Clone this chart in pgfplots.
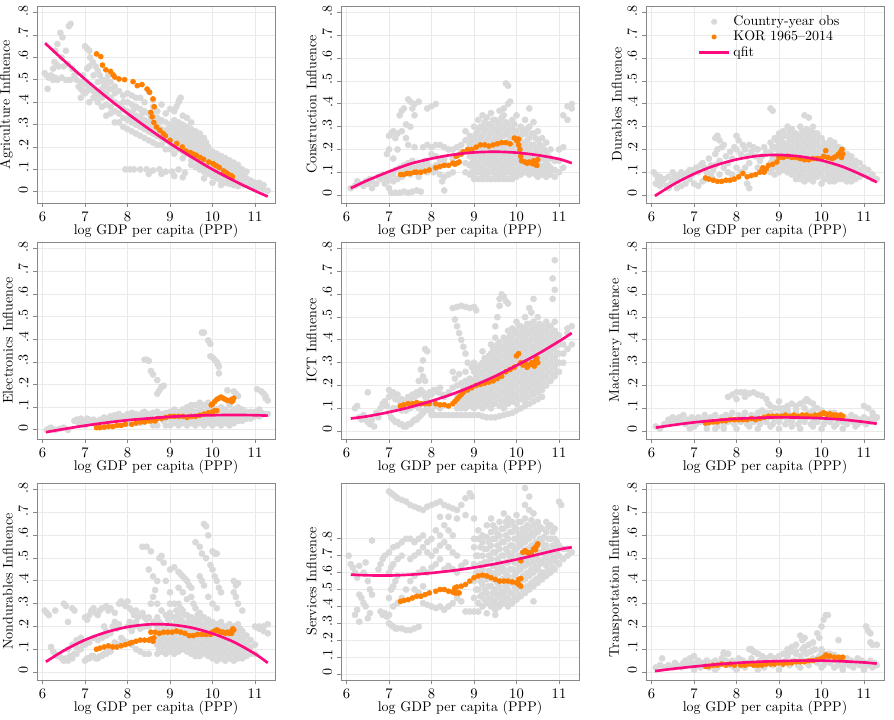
\documentclass[border=0pt]{standalone}
\usepackage{pgfplots}
\pgfplotsset{compat=1.18}
\definecolor{dotgrey}{RGB}{217,217,217}
\definecolor{kor}{RGB}{255,128,0}
\definecolor{fitc}{RGB}{255,10,127}
\definecolor{gridc}{RGB}{234,234,234}
\definecolor{framec}{RGB}{135,135,135}
\newcommand\fs{\fontsize{10.5}{12.6}\selectfont}
\pgfplotsset{
  stata/.style={
    scale only axis, width=178.5pt, height=147.75pt, anchor=north west,
    clip marker paths=true,
    xmin=5.87, xmax=11.47, ymin=-0.035, ymax=0.83,
    xtick={6,7,8,9,10,11},
    ytick={0,0.1,0.2,0.3,0.4,0.5,0.6,0.7,0.8},
    yticklabels={0,.1,.2,.3,.4,.5,.6,.7,.8},
    grid=major, major grid style={draw=gridc, line width=0.7pt},
    axis line style={draw=framec, line width=0.7pt},
    tick style={draw=framec, line width=0.7pt},
    tick align=outside, tick pos=left, major tick length=3pt,
    yticklabel style={rotate=90, anchor=south, font=\fs, xshift=1.5pt},
    xticklabel style={font=\fs},
    label style={font=\fs},
    xlabel={log GDP per capita (PPP)},
    xlabel style={yshift=4.5pt},
    ylabel style={yshift=-2.5pt},
  },
  greyd/.style={only marks, mark=*, mark size=2.3pt, color=dotgrey},
  kord/.style={only marks, mark=*, mark size=1.9pt, color=kor},
  fitl/.style={no marks, smooth, draw=fitc, line width=2pt},
  greyleg/.style={legend image code/.code={\path[draw=none] (0pt,0pt) -- (23pt,0pt); \fill[dotgrey, draw=none] (11.5pt,0pt) circle (2.3pt);}},
  korleg/.style={legend image code/.code={\path[draw=none] (0pt,0pt) -- (23pt,0pt); \fill[kor, draw=none] (11.5pt,0pt) circle (1.9pt);}},
  lineleg/.style={legend image code/.code={\draw[fitc, line width=2pt] (0pt,0pt) -- (23pt,0pt);}},
}
\begin{document}
\begin{tikzpicture}
\useasboundingbox (0,0) rectangle (670.5pt,-540pt);
% ---------------- Agriculture
\begin{axis}[stata, at={(27.75pt,-4.5pt)}, ylabel={Agriculture Influence}, ymin=-0.05]
\addplot[greyd] coordinates {
(6.05,0.53) (6.1,0.52) (6.15,0.51) (6.2,0.52) (6.12,0.46) (6.25,0.5) (6.3,0.51) (6.35,0.5) (6.42,0.71) (6.47,0.69) (6.62,0.74) (6.66,0.75) (6.35,0.66) (6.3,0.63) (6.28,0.58) (6.33,0.57) (6.38,0.56) (6.45,0.6) (6.55,0.63) (6.5,0.56) (6.6,0.57) (6.7,0.55) (6.75,0.52) (6.8,0.5) (6.45,0.51) (6.55,0.5) (6.65,0.5) (6.25,0.55)
(6.85,0.47) (6.9,0.46) (6.95,0.45) (7.0,0.44) (7.05,0.45) (7.1,0.47) (7.15,0.46) (7.2,0.45) (6.9,0.49) (7.0,0.48) (7.25,0.44) (7.3,0.43)
(7.0,0.65) (7.05,0.64) (7.1,0.63) (7.12,0.6) (7.18,0.58) (7.25,0.56) (7.3,0.54) (7.35,0.52) (7.4,0.5) (7.1,0.56) (7.2,0.52) (7.3,0.49) (7.45,0.48) (7.5,0.5) (7.55,0.52) (7.6,0.49) (7.7,0.47) (7.8,0.45) (7.9,0.43) (7.6,0.46)
(7.3,0.4) (7.4,0.42) (7.5,0.44) (7.5,0.39) (7.6,0.38) (7.6,0.42) (7.7,0.4) (7.7,0.36) (7.8,0.35) (7.8,0.39) (7.9,0.37) (7.9,0.33) (8.0,0.32) (8.0,0.36) (8.0,0.4) (8.1,0.31) (8.1,0.35) (8.1,0.39) (8.2,0.3) (8.2,0.34) (8.2,0.38) (8.3,0.29) (8.3,0.33) (8.3,0.37) (8.3,0.42) (8.4,0.28) (8.4,0.32) (8.4,0.36) (8.5,0.27) (8.5,0.31) (8.5,0.35) (8.5,0.45) (8.6,0.26) (8.6,0.3) (8.6,0.34) (8.6,0.41) (8.7,0.25) (8.7,0.29) (8.7,0.33) (8.8,0.24) (8.8,0.28) (8.8,0.32) (8.8,0.39) (8.9,0.23) (8.9,0.27) (8.9,0.31) (9.0,0.22) (9.0,0.26) (9.0,0.3) (9.0,0.37) (9.1,0.36) (9.15,0.38) (9.2,0.4) (9.25,0.42) (9.22,0.41)
(7.2,0.42) (7.4,0.38) (7.6,0.35) (7.8,0.31) (8.0,0.28) (8.2,0.26) (8.4,0.24) (8.6,0.22) (8.8,0.21) (9.0,0.19)
(7.4,0.46) (7.5,0.47) (7.7,0.44) (7.9,0.4) (8.0,0.44) (8.1,0.43) (8.2,0.42) (8.4,0.4) (8.6,0.38) (8.7,0.36) (8.9,0.35) (9.1,0.32) (9.3,0.34) (9.4,0.33) (9.5,0.31) (7.5,0.34) (7.7,0.31) (7.9,0.29) (8.1,0.27) (8.3,0.25) (8.5,0.23) (8.7,0.21) (8.9,0.19) (9.1,0.17) (9.3,0.15) (9.5,0.14) (9.7,0.12) (6.9,0.42) (7.1,0.4) (6.95,0.52) (7.05,0.55)
(9.1,0.2) (9.1,0.24) (9.1,0.28) (9.2,0.19) (9.2,0.23) (9.2,0.27) (9.2,0.31) (9.3,0.18) (9.3,0.22) (9.3,0.26) (9.3,0.3) (9.4,0.17) (9.4,0.21) (9.4,0.25) (9.4,0.29) (9.5,0.16) (9.5,0.2) (9.5,0.24) (9.5,0.28) (9.6,0.15) (9.6,0.19) (9.6,0.23) (9.6,0.27) (9.7,0.14) (9.7,0.18) (9.7,0.22) (9.7,0.26) (9.8,0.13) (9.8,0.17) (9.8,0.21) (9.8,0.24) (9.9,0.12) (9.9,0.16) (9.9,0.2) (10.0,0.11) (10.0,0.15) (10.0,0.18) (10.1,0.1) (10.1,0.14) (10.1,0.17) (10.2,0.09) (10.2,0.13) (10.2,0.16) (10.3,0.08) (10.3,0.12) (10.3,0.15) (10.4,0.07) (10.4,0.11) (10.4,0.14) (10.5,0.06) (10.5,0.1) (10.5,0.13) (10.6,0.05) (10.6,0.09) (10.6,0.12) (10.7,0.04) (10.7,0.08) (10.7,0.1) (10.8,0.03) (10.8,0.06) (10.8,0.09) (10.9,0.03) (10.9,0.05) (11.0,0.02) (11.0,0.04) (11.1,0.02) (11.1,0.04) (11.2,0.01) (11.2,0.03) (11.3,0.005)
(9.5,0.12) (9.6,0.11) (9.7,0.1) (9.8,0.09) (9.9,0.08) (10.0,0.07) (10.1,0.06) (10.2,0.05) (10.3,0.04) (10.4,0.035) (10.5,0.03) (10.6,0.025) (9.8,0.06) (10.0,0.04) (10.2,0.03)
(7.95,0.1) (8.05,0.1) (8.15,0.1) (8.3,0.1) (8.45,0.1) (8.6,0.095) (8.75,0.1) (8.9,0.09) (9.05,0.09) (9.2,0.1) (9.35,0.085) (8.5,0.08) (8.8,0.08) (9.1,0.07) (9.3,0.065)
(9.05,0.21) (9.05,0.25) (9.05,0.29) (9.15,0.22) (9.15,0.26) (9.15,0.3) (9.25,0.21) (9.25,0.25) (9.25,0.29) (9.35,0.2) (9.35,0.24) (9.35,0.28) (9.45,0.19) (9.45,0.23) (9.45,0.27) (9.55,0.18) (9.55,0.22) (9.55,0.26) (9.65,0.13) (9.65,0.17) (9.65,0.21) (9.65,0.25) (9.75,0.12) (9.75,0.16) (9.75,0.2) (9.75,0.24) (9.85,0.11) (9.85,0.15) (9.85,0.19) (9.85,0.22) (9.95,0.1) (9.95,0.14) (9.95,0.17) (10.05,0.09) (10.05,0.13) (10.05,0.16) (10.15,0.08) (10.15,0.12) (10.15,0.15) (10.25,0.07) (10.25,0.11) (10.25,0.14) (10.35,0.06) (10.35,0.1) (10.35,0.13) (10.45,0.05) (10.45,0.09) (10.45,0.12) (10.55,0.04) (10.55,0.07) (10.55,0.11) (10.65,0.04) (10.65,0.07) (10.65,0.1) (10.75,0.03) (10.75,0.06) (10.75,0.09)
(8.05,0.34) (8.15,0.33) (8.25,0.32) (8.35,0.31) (8.45,0.3) (8.55,0.29) (8.65,0.28) (8.75,0.27) (8.85,0.26) (8.95,0.25) (8.15,0.37) (8.35,0.35) (8.55,0.33) (8.75,0.31) (8.95,0.28)
};
\addplot[kord] coordinates {
(7.27,0.616) (7.37,0.604) (7.41,0.566) (7.49,0.545) (7.6,0.538) (7.66,0.523) (7.7,0.513) (7.8,0.504) (7.93,0.501) (8.13,0.492) (8.23,0.474) (8.34,0.479) (8.46,0.459) (8.52,0.444) (8.6,0.415) (8.63,0.38) (8.55,0.355) (8.58,0.335) (8.62,0.31) (8.68,0.29) (8.76,0.275) (8.84,0.26) (8.89,0.25) (9.0,0.23) (9.16,0.216) (9.29,0.2) (9.38,0.182) (9.48,0.175) (9.62,0.163) (9.71,0.153) (9.79,0.145) (9.91,0.133) (10.01,0.126) (10.09,0.116) (10.16,0.108) (10.26,0.093) (10.34,0.083) (10.41,0.074) (10.47,0.067) (10.44,0.072) (10.3,0.088) (10.05,0.12) (9.55,0.168)
};
\addplot[fitl] coordinates {(6.06,0.664) (6.5,0.587) (7,0.503) (7.5,0.424) (8,0.35) (8.5,0.281) (9,0.216) (9.5,0.156) (10,0.1) (10.5,0.05) (11,0.004) (11.3,-0.021)};
\end{axis}
% ---------------- Construction
\begin{axis}[stata, at={(255.75pt,-4.5pt)}, ylabel={Construction Influence}]
\addplot[greyd] coordinates {
(6.1,0.03) (6.2,0.04) (6.25,0.06) (6.3,0.05) (6.4,0.04) (6.45,0.06) (6.5,0.05) (6.55,0.07) (6.6,0.06) (6.7,0.05) (6.75,0.08) (6.8,0.07) (6.85,0.09) (6.9,0.08) (6.95,0.06) (7.0,0.08) (7.05,0.1) (7.1,0.09) (7.15,0.11) (7.2,0.07) (7.25,0.12) (7.3,0.1) (7.35,0.13) (7.4,0.11) (7.45,0.14) (7.5,0.12) (7.55,0.15) (7.6,0.12) (7.65,0.1) (7.7,0.13) (7.75,0.11) (7.8,0.13) (7.85,0.15) (7.9,0.14) (7.95,0.12) (8.0,0.12) (8.05,0.1) (8.1,0.11) (8.2,0.09) (8.25,0.06) (8.3,0.08) (8.4,0.09) (8.5,0.1) (6.6,0.03) (6.9,0.05) (7.1,0.06) (7.3,0.08) (7.5,0.09) (7.7,0.08) (7.9,0.1) (8.1,0.13) (8.2,0.15) (8.3,0.14)
(7.0,0.03) (7.05,0.01) (7.15,0.01) (7.25,0.01) (7.35,0.015) (7.45,0.01) (7.55,0.015) (7.65,0.02) (7.75,0.015) (8.3,0.02)
(6.95,0.18) (7.0,0.2) (7.0,0.26) (7.05,0.27) (7.1,0.28) (7.15,0.25) (7.2,0.27) (7.1,0.16) (7.2,0.2) (7.25,0.35) (7.3,0.37) (7.35,0.38) (7.3,0.28) (7.4,0.31) (7.45,0.42) (7.5,0.41) (7.5,0.3) (7.55,0.38) (7.6,0.4) (7.7,0.41) (7.6,0.35) (7.4,0.25) (7.45,0.22) (7.6,0.21) (7.9,0.38) (8.0,0.39) (8.1,0.4) (7.8,0.21) (7.9,0.22) (8.0,0.21) (8.1,0.22) (8.2,0.22) (8.3,0.21) (8.4,0.2) (8.5,0.2) (8.6,0.21) (8.7,0.22) (8.0,0.18) (8.1,0.17) (8.3,0.16) (8.5,0.16) (8.7,0.19)
(8.8,0.1) (8.8,0.14) (8.8,0.24) (8.8,0.28)
(8.9,0.09) (8.9,0.13) (8.9,0.17) (8.9,0.22) (8.9,0.26)
(9.0,0.08) (9.0,0.12) (9.0,0.16) (9.0,0.2) (9.0,0.25) (9.0,0.3)
(9.1,0.1) (9.1,0.14) (9.1,0.18) (9.1,0.23) (9.1,0.28) (9.1,0.33)
(9.2,0.09) (9.2,0.12) (9.2,0.16) (9.2,0.21) (9.2,0.26) (9.2,0.3) (9.2,0.35)
(9.3,0.08) (9.3,0.11) (9.3,0.15) (9.3,0.19) (9.3,0.24) (9.3,0.29) (9.3,0.34)
(9.4,0.1) (9.4,0.13) (9.4,0.17) (9.4,0.22) (9.4,0.27) (9.4,0.31) (9.4,0.36)
(9.5,0.09) (9.5,0.12) (9.5,0.16) (9.5,0.2) (9.5,0.25) (9.5,0.29) (9.5,0.33)
(9.6,0.08) (9.6,0.11) (9.6,0.15) (9.6,0.19) (9.6,0.24) (9.6,0.28) (9.6,0.32) (9.6,0.37)
(9.7,0.09) (9.7,0.13) (9.7,0.17) (9.7,0.21) (9.7,0.26) (9.7,0.3) (9.7,0.35) (9.7,0.38)
(9.8,0.1) (9.8,0.14) (9.8,0.18) (9.8,0.23) (9.8,0.27) (9.8,0.31) (9.8,0.4)
(9.9,0.09) (9.9,0.12) (9.9,0.16) (9.9,0.2) (9.9,0.25) (9.9,0.29) (9.9,0.33)
(10.0,0.08) (10.0,0.11) (10.0,0.15) (10.0,0.19) (10.0,0.23) (10.0,0.28) (10.0,0.35)
(10.1,0.09) (10.1,0.13) (10.1,0.17) (10.1,0.21) (10.1,0.26) (10.1,0.3)
(10.2,0.1) (10.2,0.14) (10.2,0.18) (10.2,0.22) (10.2,0.27) (10.2,0.33)
(10.3,0.09) (10.3,0.12) (10.3,0.16) (10.3,0.2) (10.3,0.25) (10.3,0.3) (10.3,0.38)
(10.4,0.1) (10.4,0.13) (10.4,0.17) (10.4,0.22) (10.4,0.27) (10.4,0.32)
(10.5,0.08) (10.5,0.11) (10.5,0.15) (10.5,0.19) (10.5,0.24) (10.5,0.28)
(10.6,0.09) (10.6,0.12) (10.6,0.16) (10.6,0.21) (10.6,0.25)
(10.7,0.08) (10.7,0.11) (10.7,0.14) (10.7,0.18) (10.7,0.23)
(10.8,0.09) (10.8,0.12) (10.8,0.16) (10.8,0.2)
(10.9,0.08) (10.9,0.11) (10.9,0.15)
(11.0,0.1) (11.0,0.15) (11.0,0.2) (11.1,0.12) (11.1,0.21) (11.1,0.35) (11.2,0.39) (11.2,0.33) (11.3,0.4) (11.3,0.38)
(9.75,0.49) (9.8,0.48) (9.85,0.41)
(9.0,0.07) (9.1,0.07) (9.2,0.07) (9.3,0.07) (9.4,0.07) (9.5,0.07) (9.6,0.07) (9.7,0.07) (9.8,0.07) (9.9,0.07)
(8.95,0.1) (8.95,0.14) (8.95,0.19) (8.95,0.24) (9.05,0.1) (9.05,0.14) (9.05,0.18) (9.05,0.22) (9.05,0.27) (9.15,0.12) (9.15,0.16) (9.15,0.2) (9.15,0.25) (9.15,0.3) (9.25,0.1) (9.25,0.14) (9.25,0.18) (9.25,0.23) (9.25,0.28) (9.25,0.32) (9.35,0.1) (9.35,0.13) (9.35,0.17) (9.35,0.21) (9.35,0.26) (9.35,0.31) (9.45,0.11) (9.45,0.15) (9.45,0.19) (9.45,0.24) (9.45,0.29) (9.45,0.33)
(9.55,0.1) (9.55,0.14) (9.55,0.18) (9.55,0.22) (9.55,0.27) (9.55,0.31) (9.65,0.1) (9.65,0.13) (9.65,0.17) (9.65,0.21) (9.65,0.26) (9.65,0.3) (9.65,0.34) (9.75,0.11) (9.75,0.15) (9.75,0.19) (9.75,0.23) (9.75,0.28) (9.75,0.32) (9.85,0.1) (9.85,0.13) (9.85,0.16) (9.85,0.21) (9.85,0.25) (9.85,0.29) (9.95,0.1) (9.95,0.14) (9.95,0.18) (9.95,0.22) (9.95,0.27) (9.95,0.31)
(10.05,0.1) (10.05,0.13) (10.05,0.17) (10.05,0.21) (10.05,0.25) (10.15,0.11) (10.15,0.15) (10.15,0.19) (10.15,0.23) (10.15,0.28) (10.25,0.12) (10.25,0.16) (10.25,0.2) (10.25,0.24) (10.25,0.29) (10.35,0.1) (10.35,0.14) (10.35,0.18) (10.35,0.22) (10.35,0.27) (10.45,0.09) (10.45,0.12) (10.45,0.16) (10.45,0.2) (10.45,0.25) (10.55,0.1) (10.55,0.13) (10.55,0.18) (10.55,0.22) (10.65,0.1) (10.65,0.13) (10.65,0.16) (10.65,0.2) (10.75,0.1) (10.75,0.13) (10.75,0.17)
};
\addplot[kord] coordinates {
(7.27,0.09) (7.35,0.09) (7.42,0.095) (7.5,0.095) (7.6,0.1) (7.65,0.1) (7.75,0.1) (7.85,0.105) (7.95,0.11) (8.1,0.12) (8.2,0.125) (8.3,0.13) (8.4,0.13) (8.5,0.14) (8.55,0.135) (8.6,0.14) (8.65,0.145) (8.58,0.17) (8.62,0.175) (8.7,0.18) (8.75,0.19) (8.85,0.2) (8.95,0.2) (9.05,0.21) (9.15,0.22) (9.25,0.22) (9.35,0.215) (9.45,0.22) (9.55,0.225) (9.65,0.23) (9.75,0.23) (9.85,0.225) (9.95,0.25) (10.0,0.24) (10.05,0.245) (10.05,0.22) (10.08,0.2) (10.1,0.17) (10.12,0.15) (10.2,0.145) (10.3,0.145) (10.35,0.14) (10.4,0.15) (10.45,0.14) (10.48,0.13) (10.5,0.155) (10.42,0.135) (10.25,0.14)
};
\addplot[fitl] coordinates {(6.1,0.03) (6.5,0.065) (7,0.103) (7.5,0.137) (8,0.16) (8.5,0.177) (9,0.187) (9.5,0.19) (10,0.186) (10.5,0.175) (11,0.158) (11.3,0.14)};
\end{axis}
% ---------------- Durables (legend)
\begin{axis}[stata, at={(484.5pt,-4.5pt)}, ylabel={Durables Influence},
  legend style={draw=none, fill=none, at={(0.215,0.965)}, anchor=north west, font=\fs, row sep=-1.5pt, inner sep=0pt},
  legend cell align=left]
\addplot[greyd, greyleg] coordinates {
(6.05,0.1) (6.1,0.09) (6.15,0.07) (6.2,0.08) (6.1,0.05) (6.2,0.04) (6.25,0.06) (6.3,0.07) (6.35,0.04) (6.4,0.03) (6.45,0.05) (6.5,0.06) (6.55,0.08) (6.6,0.07) (6.65,0.09) (6.7,0.1) (6.75,0.08) (6.8,0.09) (6.85,0.1) (6.9,0.11) (6.95,0.09) (7.0,0.11) (7.05,0.12) (7.1,0.1) (7.15,0.13) (7.2,0.14) (7.25,0.12) (7.3,0.1) (6.6,0.03) (6.7,0.04) (6.8,0.05) (6.9,0.07) (7.0,0.05) (7.1,0.04) (7.2,0.06) (7.3,0.07) (7.4,0.09) (7.4,0.13) (7.45,0.11) (6.5,0.1) (6.4,0.08) (7.35,0.16)
(7.5,0.25) (7.55,0.26) (7.6,0.24) (7.65,0.21) (7.7,0.22) (7.5,0.18) (7.55,0.2) (7.6,0.15) (7.7,0.12) (7.75,0.17) (7.8,0.14) (7.85,0.19) (7.9,0.16) (7.95,0.21) (8.0,0.26) (8.05,0.24) (8.0,0.2) (8.1,0.18) (8.15,0.22) (8.2,0.2) (8.25,0.17) (8.3,0.22) (8.35,0.19) (8.4,0.21) (8.45,0.17) (7.8,0.1) (7.9,0.09) (8.0,0.12) (8.1,0.1) (8.2,0.12) (8.3,0.14) (8.25,0.05) (8.3,0.03) (8.5,0.12) (8.55,0.15) (8.6,0.17) (8.5,0.2) (8.65,0.21) (8.7,0.19) (7.5,0.13) (7.6,0.09) (7.45,0.07)
(8.8,0.38) (8.85,0.37)
(8.8,0.1) (8.8,0.14) (8.8,0.19) (8.8,0.23)
(8.9,0.09) (8.9,0.13) (8.9,0.17) (8.9,0.21) (8.9,0.25)
(9.0,0.1) (9.0,0.14) (9.0,0.18) (9.0,0.22) (9.0,0.27)
(9.1,0.11) (9.1,0.15) (9.1,0.19) (9.1,0.23) (9.1,0.28)
(9.2,0.1) (9.2,0.14) (9.2,0.18) (9.2,0.22) (9.2,0.26) (9.2,0.3)
(9.3,0.09) (9.3,0.13) (9.3,0.17) (9.3,0.21) (9.3,0.25) (9.3,0.29)
(9.4,0.07) (9.4,0.11) (9.4,0.15) (9.4,0.19) (9.4,0.23) (9.4,0.27)
(9.5,0.07) (9.5,0.1) (9.5,0.14) (9.5,0.18) (9.5,0.22) (9.5,0.26) (9.5,0.3)
(9.6,0.06) (9.6,0.11) (9.6,0.15) (9.6,0.19) (9.6,0.23) (9.6,0.27) (9.6,0.35)
(9.7,0.07) (9.7,0.1) (9.7,0.14) (9.7,0.18) (9.7,0.22) (9.7,0.26) (9.7,0.34)
(9.8,0.06) (9.8,0.1) (9.8,0.13) (9.8,0.17) (9.8,0.21) (9.8,0.25) (9.8,0.3)
(9.9,0.08) (9.9,0.12) (9.9,0.15) (9.9,0.19) (9.9,0.23) (9.9,0.27)
(10.0,0.05) (10.0,0.09) (10.0,0.13) (10.0,0.17) (10.0,0.21) (10.0,0.25)
(10.1,0.07) (10.1,0.11) (10.1,0.15) (10.1,0.18) (10.1,0.22)
(10.2,0.06) (10.2,0.1) (10.2,0.14) (10.2,0.17) (10.2,0.21) (10.2,0.24)
(10.3,0.06) (10.3,0.09) (10.3,0.13) (10.3,0.16) (10.3,0.2) (10.3,0.23)
(10.4,0.07) (10.4,0.1) (10.4,0.14) (10.4,0.17) (10.4,0.21)
(10.5,0.07) (10.5,0.1) (10.5,0.13) (10.5,0.16) (10.5,0.2)
(10.6,0.06) (10.6,0.09) (10.6,0.12) (10.6,0.15) (10.6,0.18)
(10.7,0.06) (10.7,0.09) (10.7,0.12) (10.7,0.15) (10.7,0.17)
(10.8,0.07) (10.8,0.1) (10.8,0.13) (10.8,0.15)
(10.9,0.08) (10.9,0.11) (10.9,0.14)
(11.0,0.09) (11.0,0.12) (11.1,0.08) (11.1,0.11) (11.2,0.07) (11.2,0.09) (11.3,0.07)
(8.85,0.12) (8.85,0.16) (8.85,0.21) (8.95,0.12) (8.95,0.16) (8.95,0.2) (8.95,0.24) (9.05,0.12) (9.05,0.16) (9.05,0.2) (9.05,0.25) (9.15,0.13) (9.15,0.17) (9.15,0.21) (9.15,0.26) (9.25,0.12) (9.25,0.16) (9.25,0.2) (9.25,0.24) (9.25,0.28) (9.35,0.11) (9.35,0.15) (9.35,0.19) (9.35,0.23) (9.35,0.27) (9.45,0.09) (9.45,0.13) (9.45,0.17) (9.45,0.21) (9.45,0.25)
(9.55,0.09) (9.55,0.12) (9.55,0.16) (9.55,0.2) (9.55,0.24) (9.55,0.28) (9.65,0.08) (9.65,0.13) (9.65,0.17) (9.65,0.21) (9.65,0.25) (9.65,0.29) (9.75,0.09) (9.75,0.12) (9.75,0.16) (9.75,0.2) (9.75,0.24) (9.75,0.28) (9.85,0.08) (9.85,0.12) (9.85,0.15) (9.85,0.19) (9.85,0.23) (9.85,0.27) (9.95,0.1) (9.95,0.14) (9.95,0.17) (9.95,0.21) (9.95,0.25)
(10.05,0.07) (10.05,0.11) (10.05,0.15) (10.05,0.19) (10.05,0.23) (10.15,0.09) (10.15,0.13) (10.15,0.16) (10.15,0.2) (10.25,0.08) (10.25,0.12) (10.25,0.16) (10.25,0.19) (10.25,0.22) (10.35,0.08) (10.35,0.11) (10.35,0.15) (10.35,0.18) (10.35,0.21) (10.45,0.09) (10.45,0.12) (10.45,0.15) (10.45,0.19) (10.55,0.08) (10.55,0.11) (10.55,0.14) (10.55,0.17) (10.65,0.08) (10.65,0.11) (10.65,0.14) (10.65,0.16) (10.75,0.08) (10.75,0.11) (10.75,0.13)
};
\addlegendentry{Country-year obs}
\addplot[kord, korleg] coordinates {
(7.27,0.075) (7.35,0.07) (7.45,0.065) (7.55,0.06) (7.65,0.06) (7.75,0.065) (7.85,0.065) (7.95,0.07) (8.05,0.08) (8.15,0.095) (8.25,0.08) (8.35,0.085) (8.45,0.09) (8.55,0.1) (8.6,0.11) (8.62,0.12) (8.65,0.1) (8.7,0.115) (8.75,0.13) (8.85,0.135) (8.95,0.145) (9.0,0.165) (9.1,0.165) (9.2,0.17) (9.3,0.165) (9.4,0.165) (9.5,0.16) (9.6,0.155) (9.7,0.155) (9.8,0.16) (9.9,0.16) (10.0,0.16) (10.05,0.17) (10.1,0.195) (10.15,0.165) (10.25,0.16) (10.3,0.165) (10.35,0.17) (10.4,0.18) (10.45,0.19) (10.48,0.2) (10.5,0.18) (10.47,0.165) (10.42,0.175)
};
\addlegendentry{KOR 1965--2014}
\addplot[fitl, lineleg] coordinates {(6.08,-0.004) (6.5,0.045) (7,0.093) (7.5,0.13) (8,0.156) (8.5,0.172) (9,0.176) (9.5,0.169) (10,0.152) (10.5,0.124) (11,0.084) (11.3,0.056)};
\addlegendentry{qfit}
\end{axis}
% ---------------- Electronics
\begin{axis}[stata, at={(27.75pt,-181.5pt)}, ylabel={Electronics Influence}, ymin=-0.04]
\addplot[greyd] coordinates {
(6.1,0.0) (6.15,0.005) (6.2,0.01) (6.3,0.0) (6.4,0.005) (6.5,0.01) (6.6,0.0) (6.75,0.04) (6.8,0.045) (6.85,0.03) (6.9,0.05) (6.95,0.035) (7.0,0.04) (7.05,0.05) (7.1,0.045) (7.15,0.03) (7.2,0.045) (7.25,0.025) (7.3,0.03) (7.35,0.045) (7.4,0.04) (7.45,0.055) (7.5,0.05) (7.55,0.035) (7.6,0.06) (7.65,0.045) (7.7,0.065) (7.75,0.05) (7.8,0.07) (7.85,0.055) (7.9,0.06) (7.95,0.045) (8.0,0.07) (8.05,0.055) (8.1,0.075) (8.15,0.06) (8.2,0.07) (8.25,0.045) (8.3,0.06) (8.35,0.075) (8.4,0.08) (8.45,0.06) (8.5,0.07) (8.55,0.05) (8.6,0.075) (8.65,0.03) (8.7,0.08) (8.75,0.06) (8.8,0.07) (8.85,0.04) (8.9,0.075) (8.95,0.05) (7.0,0.02) (7.5,0.02) (8.0,0.03) (8.3,0.03) (8.6,0.02) (8.7,0.02) (8.9,0.02)
(9.0,0.02) (9.0,0.05) (9.0,0.08) (9.1,0.03) (9.1,0.06) (9.1,0.09) (9.2,0.02) (9.2,0.05) (9.2,0.08) (9.3,0.03) (9.3,0.06) (9.3,0.09) (9.4,0.02) (9.4,0.05) (9.4,0.08) (9.4,0.1) (9.5,0.03) (9.5,0.06) (9.5,0.09) (9.5,0.11) (9.6,0.02) (9.6,0.05) (9.6,0.08) (9.6,0.11) (9.7,0.03) (9.7,0.06) (9.7,0.09) (9.7,0.12) (9.8,0.02) (9.8,0.05) (9.8,0.08) (9.8,0.11) (9.9,0.03) (9.9,0.06) (9.9,0.09) (9.9,0.12) (10.0,0.02) (10.0,0.05) (10.0,0.08) (10.0,0.1) (10.1,0.03) (10.1,0.06) (10.1,0.09) (10.2,0.02) (10.2,0.05) (10.2,0.08) (10.2,0.1) (10.3,0.03) (10.3,0.06) (10.3,0.09) (10.4,0.02) (10.4,0.05) (10.4,0.08) (10.4,0.11) (10.5,0.03) (10.5,0.06) (10.5,0.09) (10.6,0.04) (10.6,0.07) (10.6,0.1) (10.7,0.04) (10.7,0.07) (10.7,0.09) (10.8,0.05) (10.8,0.08) (10.9,0.05) (10.9,0.08) (11.0,0.06) (11.0,0.08) (11.1,0.06) (11.1,0.09) (11.2,0.07) (11.3,0.07)
(9.05,0.035) (9.05,0.065) (9.15,0.035) (9.15,0.065) (9.25,0.035) (9.25,0.065) (9.35,0.035) (9.35,0.065) (9.45,0.035) (9.45,0.065) (9.55,0.035) (9.55,0.075) (9.65,0.035) (9.65,0.075) (9.75,0.04) (9.75,0.08) (9.85,0.04) (9.85,0.08) (9.95,0.035) (9.95,0.075) (10.05,0.035) (10.05,0.07) (10.15,0.04) (10.15,0.07) (10.25,0.035) (10.25,0.07) (10.35,0.04) (10.35,0.07) (10.45,0.035) (10.45,0.07) (10.55,0.045) (10.55,0.08) (10.65,0.05) (10.65,0.08) (10.75,0.055) (10.75,0.08) (10.85,0.06) (10.95,0.065) (11.05,0.07) (11.15,0.075)
(8.4,0.31) (8.45,0.31) (8.5,0.305) (8.55,0.26) (8.6,0.245) (8.7,0.22) (8.8,0.19) (8.85,0.195) (8.75,0.175) (8.7,0.16)
(9.75,0.43) (9.8,0.43) (9.9,0.395) (9.95,0.38) (9.95,0.325) (10.0,0.32) (10.05,0.31) (10.1,0.3) (10.15,0.28) (10.12,0.29) (10.15,0.25)
(10.35,0.175) (10.5,0.17) (10.55,0.16) (10.6,0.15) (11.05,0.18) (11.15,0.17) (11.2,0.16) (11.25,0.14) (11.3,0.13) (11.25,0.15)
};
\addplot[kord] coordinates {
(7.27,0.01) (7.35,0.01) (7.45,0.012) (7.55,0.015) (7.65,0.015) (7.75,0.02) (7.85,0.02) (7.95,0.025) (8.1,0.025) (8.2,0.03) (8.3,0.035) (8.4,0.035) (8.5,0.04) (8.55,0.04) (8.6,0.045) (8.65,0.04) (8.7,0.05) (8.8,0.05) (8.9,0.055) (9.0,0.06) (9.1,0.06) (9.2,0.06) (9.3,0.06) (9.4,0.055) (9.5,0.06) (9.6,0.06) (9.7,0.065) (9.8,0.07) (9.9,0.075) (10.0,0.08) (10.05,0.085) (10.1,0.085) (9.97,0.11) (10.0,0.115) (10.05,0.125) (10.1,0.135) (10.15,0.14) (10.2,0.145) (10.25,0.14) (10.3,0.135) (10.35,0.13) (10.4,0.13) (10.45,0.125) (10.48,0.13) (10.5,0.14) (10.45,0.135)
};
\addplot[fitl] coordinates {(6.08,-0.01) (6.5,0.004) (7,0.019) (7.5,0.032) (8,0.043) (8.5,0.051) (9,0.058) (9.5,0.063) (10,0.065) (10.5,0.066) (11,0.065) (11.3,0.063)};
\end{axis}
% ---------------- ICT
\begin{axis}[stata, at={(255.75pt,-181.5pt)}, ylabel={ICT Influence}]
\addplot[greyd] coordinates {
(6.2,0.1) (6.25,0.11) (6.3,0.06) (6.35,0.05) (6.4,0.07) (6.45,0.05) (6.5,0.04) (6.55,0.03) (6.6,0.05) (6.65,0.02) (6.5,0.17) (6.7,0.08) (6.75,0.06) (6.8,0.1) (6.85,0.12) (6.9,0.13) (6.95,0.11) (7.0,0.15) (7.0,0.18) (7.05,0.16) (7.1,0.17) (7.15,0.14) (7.2,0.16) (7.25,0.13) (7.3,0.14) (7.35,0.12) (7.4,0.13) (7.45,0.15) (7.5,0.14) (7.55,0.16) (7.6,0.15) (7.65,0.17) (7.7,0.16) (7.75,0.18) (7.8,0.17) (7.85,0.15) (7.9,0.15) (7.95,0.17) (8.0,0.16) (8.05,0.18) (8.1,0.18) (8.15,0.17) (8.2,0.19) (8.25,0.16) (8.3,0.15) (8.4,0.17) (8.5,0.19) (8.55,0.23) (7.0,0.08) (7.05,0.06) (7.1,0.05) (7.15,0.04) (7.2,0.04) (7.25,0.03) (7.3,0.03) (7.35,0.02) (7.4,0.02) (7.45,0.03) (7.5,0.03) (7.55,0.04) (7.6,0.05) (7.65,0.05) (7.7,0.06) (7.75,0.07) (7.8,0.08) (7.85,0.09) (7.9,0.1) (7.95,0.09) (8.0,0.09) (7.1,0.1) (7.2,0.1) (7.3,0.09) (7.4,0.09) (7.5,0.1) (7.6,0.11) (7.7,0.1) (7.8,0.12) (7.9,0.13) (8.0,0.12) (8.1,0.11) (8.2,0.1)
(7.85,0.36) (7.9,0.35) (7.8,0.31) (7.75,0.27) (7.8,0.24) (7.85,0.22) (7.7,0.22)
(8.5,0.54) (8.6,0.545) (8.7,0.55) (8.8,0.545) (8.9,0.54) (9.0,0.545) (9.05,0.53) (8.55,0.49) (8.6,0.46) (8.65,0.43) (8.7,0.4) (8.75,0.37) (8.8,0.34) (8.65,0.25) (8.5,0.26) (8.85,0.3) (8.95,0.28)
(9.6,0.58) (9.65,0.6) (9.7,0.59) (9.75,0.57) (9.8,0.56) (9.6,0.55) (9.55,0.5) (9.5,0.46)
(10.9,0.75) (10.85,0.67) (10.9,0.62) (10.85,0.58) (10.4,0.58) (10.3,0.54) (10.35,0.52)
(8.0,0.07) (8.1,0.07) (8.2,0.07) (8.3,0.07) (8.4,0.07) (8.5,0.07) (8.6,0.07) (8.7,0.07) (8.8,0.07) (8.9,0.07) (9.0,0.07) (9.1,0.07) (9.2,0.065) (9.3,0.06) (9.4,0.06) (9.5,0.06) (9.6,0.065) (9.7,0.07) (9.8,0.075) (9.9,0.08) (10.0,0.09) (10.1,0.1) (10.2,0.11) (10.3,0.12) (10.4,0.13) (10.5,0.14) (10.6,0.15)
(8.6,0.1) (8.6,0.13) (8.6,0.16) (8.6,0.2) (8.7,0.1) (8.7,0.13) (8.7,0.17) (8.7,0.21) (8.8,0.1) (8.8,0.14) (8.8,0.18) (8.8,0.22) (8.8,0.26) (8.9,0.11) (8.9,0.15) (8.9,0.19) (8.9,0.23)
(9.0,0.1) (9.0,0.14) (9.0,0.18) (9.0,0.22) (9.0,0.26) (9.0,0.3) (9.1,0.11) (9.1,0.15) (9.1,0.19) (9.1,0.23) (9.1,0.27)
(9.2,0.1) (9.2,0.14) (9.2,0.18) (9.2,0.22) (9.2,0.26) (9.2,0.3) (9.2,0.35) (9.3,0.11) (9.3,0.15) (9.3,0.19) (9.3,0.23) (9.3,0.27) (9.3,0.31)
(9.4,0.1) (9.4,0.14) (9.4,0.18) (9.4,0.22) (9.4,0.26) (9.4,0.3) (9.4,0.34) (9.4,0.38)
(9.5,0.12) (9.5,0.16) (9.5,0.2) (9.5,0.24) (9.5,0.28) (9.5,0.32) (9.5,0.36) (9.5,0.41)
(9.6,0.11) (9.6,0.15) (9.6,0.19) (9.6,0.23) (9.6,0.27) (9.6,0.31) (9.6,0.35) (9.6,0.39)
(9.7,0.1) (9.7,0.13) (9.7,0.17) (9.7,0.21) (9.7,0.25) (9.7,0.29) (9.7,0.33) (9.7,0.37) (9.7,0.41)
(9.8,0.12) (9.8,0.16) (9.8,0.2) (9.8,0.24) (9.8,0.28) (9.8,0.32) (9.8,0.36) (9.8,0.4) (9.8,0.44)
(9.9,0.13) (9.9,0.17) (9.9,0.21) (9.9,0.25) (9.9,0.29) (9.9,0.33) (9.9,0.37) (9.9,0.41) (9.9,0.45)
(10.0,0.12) (10.0,0.16) (10.0,0.2) (10.0,0.24) (10.0,0.28) (10.0,0.32) (10.0,0.36) (10.0,0.4) (10.0,0.44) (10.0,0.48)
(10.1,0.14) (10.1,0.18) (10.1,0.22) (10.1,0.26) (10.1,0.3) (10.1,0.34) (10.1,0.38) (10.1,0.42) (10.1,0.46)
(10.2,0.13) (10.2,0.17) (10.2,0.21) (10.2,0.25) (10.2,0.29) (10.2,0.33) (10.2,0.37) (10.2,0.41) (10.2,0.45) (10.2,0.5)
(10.3,0.15) (10.3,0.19) (10.3,0.23) (10.3,0.27) (10.3,0.31) (10.3,0.35) (10.3,0.39) (10.3,0.43) (10.3,0.47)
(10.4,0.16) (10.4,0.2) (10.4,0.24) (10.4,0.28) (10.4,0.32) (10.4,0.36) (10.4,0.4) (10.4,0.44) (10.4,0.48)
(10.5,0.17) (10.5,0.21) (10.5,0.25) (10.5,0.29) (10.5,0.33) (10.5,0.37) (10.5,0.41) (10.5,0.45) (10.5,0.5)
(10.6,0.18) (10.6,0.22) (10.6,0.26) (10.6,0.3) (10.6,0.34) (10.6,0.38) (10.6,0.42) (10.6,0.46)
(10.7,0.2) (10.7,0.24) (10.7,0.28) (10.7,0.32) (10.7,0.36) (10.7,0.4) (10.7,0.44) (10.7,0.48)
(10.8,0.22) (10.8,0.26) (10.8,0.3) (10.8,0.34) (10.8,0.38) (10.8,0.42) (10.8,0.46)
(10.9,0.24) (10.9,0.28) (10.9,0.32) (10.9,0.36) (10.9,0.4) (10.9,0.44) (10.9,0.48)
(11.0,0.26) (11.0,0.3) (11.0,0.34) (11.0,0.38) (11.0,0.42) (11.1,0.3) (11.1,0.34) (11.1,0.38) (11.2,0.36) (11.2,0.43) (11.2,0.45) (11.3,0.38) (11.3,0.46)
(8.65,0.12) (8.65,0.15) (8.75,0.12) (8.75,0.15) (8.75,0.19) (8.85,0.12) (8.85,0.16) (8.85,0.2) (8.95,0.13) (8.95,0.17) (8.95,0.21)
(9.05,0.12) (9.05,0.16) (9.05,0.2) (9.05,0.24) (9.05,0.28) (9.15,0.13) (9.15,0.17) (9.15,0.21) (9.15,0.25) (9.15,0.29) (9.25,0.12) (9.25,0.16) (9.25,0.2) (9.25,0.24) (9.25,0.28) (9.25,0.32) (9.35,0.13) (9.35,0.17) (9.35,0.21) (9.35,0.25) (9.35,0.29) (9.35,0.33)
(9.45,0.12) (9.45,0.16) (9.45,0.2) (9.45,0.24) (9.45,0.28) (9.45,0.32) (9.45,0.36) (9.55,0.14) (9.55,0.18) (9.55,0.22) (9.55,0.26) (9.55,0.3) (9.55,0.34) (9.55,0.38) (9.65,0.13) (9.65,0.17) (9.65,0.21) (9.65,0.25) (9.65,0.29) (9.65,0.33) (9.65,0.37)
(9.75,0.12) (9.75,0.15) (9.75,0.19) (9.75,0.23) (9.75,0.27) (9.75,0.31) (9.75,0.35) (9.75,0.39) (9.85,0.14) (9.85,0.18) (9.85,0.22) (9.85,0.26) (9.85,0.3) (9.85,0.34) (9.85,0.38) (9.85,0.42) (9.95,0.15) (9.95,0.19) (9.95,0.23) (9.95,0.27) (9.95,0.31) (9.95,0.35) (9.95,0.39) (9.95,0.43)
(10.05,0.14) (10.05,0.18) (10.05,0.22) (10.05,0.26) (10.05,0.3) (10.05,0.34) (10.05,0.38) (10.05,0.42) (10.05,0.46) (10.15,0.16) (10.15,0.2) (10.15,0.24) (10.15,0.28) (10.15,0.32) (10.15,0.36) (10.15,0.4) (10.15,0.44)
(10.25,0.15) (10.25,0.19) (10.25,0.23) (10.25,0.27) (10.25,0.31) (10.25,0.35) (10.25,0.39) (10.25,0.43) (10.25,0.47) (10.35,0.17) (10.35,0.21) (10.35,0.25) (10.35,0.29) (10.35,0.33) (10.35,0.37) (10.35,0.41) (10.35,0.45)
(10.45,0.18) (10.45,0.22) (10.45,0.26) (10.45,0.3) (10.45,0.34) (10.45,0.38) (10.45,0.42) (10.45,0.46) (10.55,0.19) (10.55,0.23) (10.55,0.27) (10.55,0.31) (10.55,0.35) (10.55,0.39) (10.55,0.43) (10.55,0.47)
(10.65,0.2) (10.65,0.24) (10.65,0.28) (10.65,0.32) (10.65,0.36) (10.65,0.4) (10.65,0.44) (10.75,0.22) (10.75,0.26) (10.75,0.3) (10.75,0.34) (10.75,0.38) (10.75,0.42) (10.75,0.46) (10.85,0.24) (10.85,0.28) (10.85,0.32) (10.85,0.36) (10.85,0.4) (10.85,0.44) (10.95,0.26) (10.95,0.3) (10.95,0.34) (10.95,0.38) (10.95,0.42)
};
\addplot[kord] coordinates {
(7.27,0.11) (7.35,0.115) (7.45,0.12) (7.55,0.12) (7.65,0.125) (7.75,0.12) (7.85,0.12) (7.95,0.12) (8.1,0.12) (8.2,0.115) (8.3,0.115) (8.4,0.11) (8.5,0.12) (8.55,0.13) (8.6,0.14) (8.65,0.15) (8.7,0.16) (8.75,0.17) (8.85,0.18) (8.95,0.19) (9.05,0.2) (9.15,0.205) (9.25,0.21) (9.35,0.215) (9.45,0.22) (9.55,0.23) (9.65,0.24) (9.75,0.26) (9.85,0.27) (9.95,0.28) (10.0,0.33) (10.05,0.34) (10.1,0.3) (10.15,0.29) (10.2,0.3) (10.25,0.28) (10.3,0.29) (10.35,0.3) (10.4,0.29) (10.45,0.31) (10.5,0.3) (10.48,0.32) (10.42,0.285)
};
\addplot[fitl] coordinates {(6.1,0.055) (6.5,0.065) (7,0.083) (7.5,0.105) (8,0.132) (8.5,0.163) (9,0.2) (9.5,0.241) (10,0.288) (10.5,0.338) (11,0.394) (11.3,0.43)};
\end{axis}
% ---------------- Machinery
\begin{axis}[stata, at={(484.5pt,-181.5pt)}, ylabel={Machinery Influence}]
\addplot[greyd] coordinates {
(6.1,0.02) (6.2,0.01) (6.3,0.03) (6.4,0.05) (6.45,0.04) (6.5,0.06) (6.55,0.05) (6.6,0.04) (6.65,0.06) (6.7,0.05) (6.75,0.07) (6.8,0.03) (6.85,0.05) (6.9,0.04) (6.95,0.06) (7.0,0.05) (7.05,0.03) (7.1,0.06) (7.15,0.04) (7.2,0.05) (7.25,0.07) (7.3,0.03) (7.35,0.05) (7.4,0.06) (7.45,0.04) (7.5,0.07) (7.55,0.02) (7.6,0.05) (7.65,0.06) (7.7,0.03) (7.75,0.07) (7.8,0.04) (7.85,0.06) (7.9,0.08) (7.95,0.03) (8.0,0.05) (8.05,0.07) (8.1,0.04) (8.15,0.06) (8.2,0.08) (8.25,0.03) (8.3,0.05) (8.35,0.07) (8.4,0.04) (8.45,0.06) (8.5,0.08) (8.55,0.03) (8.6,0.05) (8.65,0.07) (8.7,0.04) (8.75,0.06) (8.8,0.08) (8.85,0.03) (8.9,0.05) (8.95,0.07) (9.0,0.04) (9.05,0.06) (9.1,0.08) (9.15,0.03) (9.2,0.05) (9.25,0.07) (9.3,0.04) (9.35,0.06) (9.4,0.08) (9.45,0.03) (9.5,0.05) (9.55,0.07) (9.6,0.04) (9.65,0.06) (9.7,0.08) (9.75,0.03) (9.8,0.05) (9.85,0.07) (9.9,0.04) (9.95,0.06) (10.0,0.08) (10.05,0.03) (10.1,0.05) (10.15,0.07) (10.2,0.04) (10.25,0.06) (10.3,0.08) (10.35,0.03) (10.4,0.05) (10.45,0.07) (10.5,0.04) (10.55,0.06) (10.6,0.03) (10.65,0.05) (10.7,0.07) (10.75,0.04) (10.8,0.06) (10.85,0.03) (10.9,0.05) (10.95,0.04) (11.0,0.06) (11.05,0.03) (11.1,0.05) (11.15,0.04) (11.2,0.06) (11.25,0.05) (11.3,0.06)
(7.0,0.02) (7.5,0.01) (8.0,0.01) (8.5,0.01) (9.0,0.01) (9.5,0.01) (10.0,0.01) (10.5,0.01) (6.9,0.01) (7.3,0.01) (7.7,0.01) (8.3,0.02) (8.8,0.02) (9.3,0.02) (9.8,0.02) (10.3,0.02) (10.8,0.02)
(7.9,0.16) (8.0,0.17) (8.1,0.17) (8.2,0.17) (8.3,0.165) (8.4,0.17) (8.5,0.16) (8.6,0.155) (8.7,0.14) (8.75,0.12) (8.8,0.11) (8.9,0.1) (9.0,0.1) (9.1,0.1) (9.2,0.11) (9.3,0.12) (9.4,0.11) (9.5,0.12) (9.6,0.13) (9.65,0.14) (9.7,0.13) (9.8,0.12) (9.9,0.1) (10.0,0.09) (7.8,0.15) (8.0,0.14) (8.2,0.15) (8.6,0.09) (8.7,0.08) (9.0,0.13)
(11.0,0.11) (11.1,0.1) (11.2,0.08) (11.3,0.06)
(9.2,0.09) (9.4,0.095) (9.6,0.1) (9.8,0.09) (10.0,0.085) (10.2,0.08)
};
\addplot[kord] coordinates {
(7.27,0.035) (7.35,0.037) (7.45,0.04) (7.55,0.04) (7.65,0.045) (7.75,0.045) (7.85,0.05) (7.95,0.05) (8.05,0.05) (8.15,0.05) (8.25,0.05) (8.35,0.055) (8.45,0.05) (8.55,0.055) (8.65,0.06) (8.75,0.065) (8.85,0.065) (8.95,0.065) (9.05,0.065) (9.15,0.07) (9.25,0.065) (9.35,0.07) (9.45,0.065) (9.55,0.07) (9.65,0.07) (9.75,0.065) (9.85,0.07) (9.95,0.07) (10.0,0.075) (10.05,0.08) (10.1,0.075) (10.15,0.07) (10.2,0.075) (10.25,0.07) (10.3,0.07) (10.35,0.07) (10.4,0.065) (10.45,0.07) (10.5,0.065)
};
\addplot[fitl] coordinates {(6.1,0.015) (6.5,0.026) (7,0.038) (7.5,0.047) (8,0.054) (8.5,0.058) (9,0.06) (9.5,0.059) (10,0.056) (10.5,0.05) (11,0.04) (11.3,0.032)};
\end{axis}
% ---------------- Nondurables
\begin{axis}[stata, at={(27.75pt,-362.25pt)}, ylabel={Nondurables Influence}]
\addplot[greyd] coordinates {
(6.05,0.27) (6.1,0.26) (6.15,0.25) (6.3,0.27) (6.5,0.3) (6.55,0.29) (6.6,0.22) (6.7,0.28) (6.75,0.27) (6.2,0.11) (6.25,0.09) (6.3,0.08) (6.35,0.07) (6.4,0.07) (6.45,0.06) (6.5,0.05) (6.55,0.06) (6.6,0.05) (6.65,0.07) (6.7,0.06) (6.75,0.08) (6.8,0.08) (6.85,0.1) (6.9,0.1) (6.95,0.12) (7.0,0.12) (7.05,0.13) (7.1,0.13) (6.8,0.14) (6.9,0.15) (7.0,0.05) (7.05,0.06) (7.1,0.06) (7.15,0.07) (7.2,0.07) (7.25,0.06) (7.3,0.06) (7.35,0.07) (7.4,0.07) (7.45,0.08) (7.5,0.08) (7.55,0.09) (7.6,0.09) (6.6,0.1) (6.7,0.12) (6.8,0.11) (7.2,0.15) (7.3,0.14) (7.4,0.15) (7.5,0.16)
(7.0,0.24) (7.05,0.23) (7.1,0.25) (7.15,0.27) (7.2,0.28) (7.25,0.26) (7.3,0.25) (7.35,0.27) (7.4,0.28) (7.5,0.29) (7.55,0.27) (7.6,0.28) (7.45,0.2) (7.5,0.18) (7.6,0.17) (7.65,0.2) (7.7,0.22) (7.75,0.19) (7.8,0.21) (7.7,0.26)
(7.8,0.3) (7.85,0.31) (7.9,0.3) (7.95,0.29) (8.0,0.31) (8.05,0.28) (8.1,0.27) (8.15,0.25) (8.2,0.27) (8.0,0.2) (8.05,0.22) (8.1,0.18) (8.15,0.2) (8.2,0.22) (8.25,0.24) (8.3,0.25) (8.35,0.26) (8.4,0.24) (8.45,0.23) (8.5,0.24) (7.85,0.15) (7.9,0.14) (8.0,0.13) (8.1,0.12) (8.2,0.1) (8.3,0.09) (8.4,0.08) (8.5,0.08) (7.7,0.13) (7.8,0.12) (8.3,0.19) (8.4,0.2) (8.5,0.2) (8.6,0.22)
(8.35,0.55) (8.45,0.55) (8.55,0.53) (8.5,0.45) (8.6,0.42) (8.7,0.4) (8.75,0.5) (8.8,0.51) (8.85,0.48) (8.65,0.36) (8.6,0.33) (8.55,0.3) (8.7,0.3) (8.8,0.27)
(9.0,0.45) (9.1,0.46) (9.2,0.44) (9.25,0.43) (9.3,0.42) (9.35,0.41) (9.4,0.4) (9.45,0.38) (9.5,0.37) (9.2,0.37) (9.3,0.35) (9.4,0.32) (9.0,0.35) (9.1,0.3) (8.9,0.4) (9.5,0.33) (9.55,0.3) (9.6,0.28)
(9.6,0.57) (9.7,0.55) (9.75,0.52) (9.8,0.65) (9.85,0.64) (9.9,0.6) (9.85,0.5) (9.95,0.47) (10.0,0.53) (10.05,0.52) (10.1,0.52) (10.0,0.45) (10.05,0.42) (10.1,0.4) (10.15,0.37) (10.2,0.35) (9.7,0.42) (9.75,0.4) (9.8,0.38) (9.9,0.33) (10.0,0.3) (10.1,0.28)
(10.5,0.4) (10.55,0.38) (10.6,0.39) (10.6,0.3) (10.7,0.27) (10.5,0.35) (10.55,0.33)
(8.7,0.08) (8.7,0.12) (8.7,0.16) (8.7,0.2) (8.7,0.24) (8.8,0.09) (8.8,0.13) (8.8,0.17) (8.8,0.21) (8.9,0.08) (8.9,0.12) (8.9,0.16) (8.9,0.2) (8.9,0.25)
(9.0,0.09) (9.0,0.13) (9.0,0.17) (9.0,0.21) (9.0,0.26) (9.0,0.3) (9.1,0.08) (9.1,0.12) (9.1,0.16) (9.1,0.2) (9.1,0.24) (9.2,0.09) (9.2,0.13) (9.2,0.17) (9.2,0.21) (9.2,0.25) (9.2,0.3)
(9.3,0.1) (9.3,0.14) (9.3,0.18) (9.3,0.22) (9.3,0.27) (9.4,0.09) (9.4,0.13) (9.4,0.17) (9.4,0.21) (9.4,0.25) (9.5,0.08) (9.5,0.12) (9.5,0.16) (9.5,0.2) (9.5,0.24)
(9.6,0.07) (9.6,0.11) (9.6,0.15) (9.6,0.19) (9.6,0.23) (9.7,0.07) (9.7,0.1) (9.7,0.14) (9.7,0.18) (9.7,0.22) (9.7,0.26) (9.8,0.08) (9.8,0.12) (9.8,0.16) (9.8,0.2) (9.8,0.24)
(9.9,0.07) (9.9,0.11) (9.9,0.15) (9.9,0.19) (9.9,0.23) (10.0,0.06) (10.0,0.1) (10.0,0.14) (10.0,0.18) (10.0,0.22) (10.1,0.05) (10.1,0.09) (10.1,0.13) (10.1,0.17) (10.1,0.21)
(10.2,0.06) (10.2,0.1) (10.2,0.14) (10.2,0.18) (10.2,0.22) (10.3,0.05) (10.3,0.09) (10.3,0.13) (10.3,0.16) (10.3,0.2) (10.4,0.06) (10.4,0.1) (10.4,0.14) (10.4,0.17) (10.4,0.21)
(10.5,0.05) (10.5,0.09) (10.5,0.12) (10.5,0.16) (10.5,0.2) (10.6,0.06) (10.6,0.09) (10.6,0.13) (10.6,0.17) (10.6,0.21) (10.7,0.06) (10.7,0.1) (10.7,0.14) (10.7,0.18)
(10.8,0.07) (10.8,0.1) (10.8,0.13) (10.8,0.16) (10.9,0.08) (10.9,0.11) (10.9,0.14) (11.0,0.08) (11.0,0.12) (11.0,0.2) (11.1,0.2) (11.1,0.19) (11.2,0.2) (11.2,0.18) (11.3,0.21) (11.3,0.17)
(8.75,0.1) (8.75,0.14) (8.75,0.18) (8.75,0.22) (8.85,0.11) (8.85,0.15) (8.85,0.19) (8.95,0.1) (8.95,0.14) (8.95,0.18) (8.95,0.23) (9.05,0.11) (9.05,0.15) (9.05,0.19) (9.05,0.24) (9.15,0.1) (9.15,0.14) (9.15,0.18) (9.15,0.22) (9.15,0.27) (9.25,0.11) (9.25,0.15) (9.25,0.19) (9.25,0.23) (9.25,0.28)
(9.35,0.12) (9.35,0.16) (9.35,0.2) (9.35,0.25) (9.45,0.11) (9.45,0.15) (9.45,0.19) (9.45,0.23) (9.55,0.1) (9.55,0.14) (9.55,0.18) (9.55,0.22) (9.65,0.09) (9.65,0.13) (9.65,0.17) (9.65,0.21) (9.65,0.25) (9.75,0.09) (9.75,0.12) (9.75,0.16) (9.75,0.2) (9.75,0.24)
(9.85,0.1) (9.85,0.14) (9.85,0.18) (9.85,0.22) (9.95,0.09) (9.95,0.13) (9.95,0.17) (9.95,0.21) (10.05,0.08) (10.05,0.12) (10.05,0.16) (10.05,0.2) (10.15,0.07) (10.15,0.11) (10.15,0.15) (10.15,0.19) (10.25,0.08) (10.25,0.12) (10.25,0.16) (10.25,0.2)
(10.35,0.07) (10.35,0.11) (10.35,0.15) (10.35,0.18) (10.45,0.08) (10.45,0.12) (10.45,0.16) (10.45,0.19) (10.55,0.07) (10.55,0.11) (10.55,0.14) (10.55,0.18) (10.65,0.08) (10.65,0.11) (10.65,0.15) (10.65,0.19) (10.75,0.08) (10.75,0.12) (10.75,0.16)
};
\addplot[kord] coordinates {
(7.27,0.1) (7.35,0.105) (7.45,0.11) (7.55,0.115) (7.65,0.11) (7.75,0.11) (7.85,0.115) (7.95,0.12) (8.05,0.125) (8.1,0.13) (8.2,0.135) (8.3,0.14) (8.4,0.14) (8.5,0.14) (8.55,0.145) (8.6,0.135) (8.62,0.15) (8.55,0.175) (8.65,0.175) (8.75,0.17) (8.85,0.175) (8.95,0.175) (9.05,0.175) (9.15,0.18) (9.25,0.175) (9.35,0.17) (9.45,0.16) (9.55,0.16) (9.65,0.165) (9.75,0.165) (9.85,0.165) (9.95,0.165) (10.0,0.175) (10.05,0.18) (10.1,0.185) (10.15,0.18) (10.2,0.175) (10.25,0.175) (10.3,0.17) (10.35,0.175) (10.4,0.17) (10.45,0.18) (10.48,0.19) (10.5,0.185) (10.45,0.17)
};
\addplot[fitl] coordinates {(6.08,0.045) (6.5,0.094) (7,0.141) (7.5,0.175) (8,0.198) (8.5,0.209) (9,0.208) (9.5,0.195) (10,0.169) (10.5,0.132) (11,0.08) (11.3,0.04)};
\end{axis}
% ---------------- Services
\begin{axis}[stata, at={(255.75pt,-362.25pt)}, ylabel={Services Influence}, ymin=-0.035, ymax=1.13]
\addplot[greyd] coordinates {
(7.0,1.08) (7.05,1.07) (7.1,1.06) (7.15,1.05) (7.2,1.04) (7.3,1.03) (7.4,1.02) (7.5,1.0) (7.6,0.99) (7.7,0.98) (7.8,0.97) (7.9,0.99) (8.0,1.0) (8.1,1.01) (8.2,1.02) (8.3,1.0) (8.4,0.99) (8.5,0.98) (8.6,0.97) (8.7,1.0) (8.8,1.04) (8.9,1.07) (8.95,1.05) (8.2,0.93) (8.4,0.93) (8.6,0.92) (8.8,0.94) (9.0,0.92)
(6.05,0.7) (6.1,0.65) (6.15,0.63) (6.2,0.6) (6.25,0.57) (6.3,0.47) (6.35,0.45) (6.4,0.42) (6.45,0.4) (6.3,0.31) (6.2,0.35) (6.25,0.38) (6.4,0.6) (6.5,0.55) (6.55,0.5) (6.6,0.79) (6.6,0.47) (6.5,0.33) (6.55,0.36) (6.45,0.66) (6.3,0.64)
(6.75,0.62) (6.8,0.65) (6.85,0.68) (6.9,0.7) (7.0,0.72) (7.1,0.75) (7.2,0.76) (7.3,0.78) (7.4,0.8) (7.5,0.8) (6.8,0.37) (6.85,0.35) (6.9,0.36) (6.95,0.34) (7.0,0.35) (7.0,0.3) (7.05,0.29) (7.1,0.28) (7.15,0.27) (7.2,0.27) (7.3,0.27) (7.4,0.26) (7.5,0.26) (7.6,0.27) (7.7,0.28) (7.0,0.45) (7.05,0.5) (7.1,0.52) (7.15,0.55) (7.2,0.58) (7.0,0.6) (7.05,0.63) (7.1,0.65) (7.2,0.68) (7.3,0.7) (7.1,0.4) (7.2,0.42) (7.3,0.45) (7.4,0.5)
(7.5,0.68) (7.6,0.7) (7.7,0.72) (7.8,0.75) (7.9,0.78) (8.0,0.8) (7.6,0.78) (7.7,0.8) (7.8,0.82) (7.9,0.72) (8.0,0.7) (8.1,0.73) (8.2,0.76) (8.3,0.78) (8.1,0.85) (8.2,0.82) (8.3,0.88) (8.4,0.85) (8.5,0.82) (8.4,0.75) (8.5,0.72) (8.6,0.7) (7.8,0.62) (7.9,0.6) (8.0,0.63) (8.1,0.65) (8.2,0.68) (7.5,0.55) (7.6,0.58) (7.7,0.6) (7.6,0.5) (7.7,0.48) (7.8,0.52) (8.3,0.62) (8.4,0.64) (8.5,0.62) (8.6,0.6) (8.7,0.64) (8.8,0.66)
(8.0,0.4) (8.1,0.39) (8.2,0.4) (8.3,0.38) (8.4,0.4) (8.5,0.42) (8.6,0.45) (8.7,0.43) (8.8,0.37) (8.9,0.37) (9.0,0.37) (9.1,0.37) (7.8,0.42) (7.9,0.41) (10.4,0.43) (9.5,0.35) (9.3,0.36)
(9.0,0.45) (9.0,0.55) (9.0,0.65) (9.0,0.75) (9.0,0.8) (9.1,0.42) (9.1,0.5) (9.1,0.6) (9.1,0.7) (9.1,0.8) (9.1,0.85)
(9.2,0.4) (9.2,0.47) (9.2,0.53) (9.2,0.62) (9.2,0.7) (9.2,0.78) (9.2,0.82) (9.3,0.42) (9.3,0.48) (9.3,0.56) (9.3,0.66) (9.3,0.74) (9.3,0.81) (9.3,0.88)
(9.4,0.4) (9.4,0.45) (9.4,0.52) (9.4,0.6) (9.4,0.68) (9.4,0.76) (9.4,0.84) (9.4,0.92) (9.5,0.38) (9.5,0.44) (9.5,0.5) (9.5,0.58) (9.5,0.64) (9.5,0.72) (9.5,0.8) (9.5,0.86)
(9.6,0.4) (9.6,0.46) (9.6,0.52) (9.6,0.6) (9.6,0.66) (9.6,0.74) (9.6,0.82) (9.6,0.9) (9.7,0.42) (9.7,0.48) (9.7,0.56) (9.7,0.62) (9.7,0.7) (9.7,0.78) (9.7,0.86) (9.7,0.95)
(9.8,0.4) (9.8,0.45) (9.8,0.5) (9.8,0.58) (9.8,0.66) (9.8,0.72) (9.8,0.8) (9.8,0.88) (9.8,0.92) (9.9,0.42) (9.9,0.48) (9.9,0.55) (9.9,0.62) (9.9,0.7) (9.9,0.76) (9.9,0.84) (9.9,0.9)
(10.0,0.44) (10.0,0.5) (10.0,0.6) (10.0,0.66) (10.0,0.74) (10.0,0.8) (10.0,0.86) (10.0,0.94) (10.1,0.46) (10.1,0.55) (10.1,0.62) (10.1,0.68) (10.1,0.76) (10.1,0.82) (10.1,0.9)
(10.2,0.48) (10.2,0.56) (10.2,0.64) (10.2,0.7) (10.2,0.78) (10.2,0.84) (10.2,0.92) (10.2,1.0) (10.2,1.1) (10.3,0.5) (10.3,0.58) (10.3,0.65) (10.3,0.72) (10.3,0.8) (10.3,0.86) (10.3,0.97) (10.3,1.05)
(10.4,0.52) (10.4,0.6) (10.4,0.66) (10.4,0.74) (10.4,0.82) (10.4,0.88) (10.4,0.95) (10.5,0.54) (10.5,0.62) (10.5,0.68) (10.5,0.76) (10.5,0.84) (10.5,0.9)
(10.6,0.56) (10.6,0.6) (10.6,0.66) (10.6,0.72) (10.6,0.78) (10.6,0.86) (10.7,0.58) (10.7,0.64) (10.7,0.7) (10.7,0.76) (10.7,0.84) (10.7,0.9)
(10.8,0.6) (10.8,0.66) (10.8,0.72) (10.8,0.8) (10.8,0.88) (10.9,0.62) (10.9,0.68) (10.9,0.74) (10.9,0.8) (10.9,0.86) (11.0,0.65) (11.0,0.7) (11.0,0.76) (11.0,1.02) (11.05,1.0) (11.1,0.68) (11.1,0.74) (11.2,0.7) (11.2,0.74) (11.3,0.72)
(9.05,0.5) (9.05,0.6) (9.05,0.7) (9.15,0.46) (9.15,0.55) (9.15,0.65) (9.15,0.75) (9.25,0.44) (9.25,0.5) (9.25,0.58) (9.25,0.66) (9.25,0.74) (9.35,0.45) (9.35,0.52) (9.35,0.61) (9.35,0.7) (9.35,0.78)
(9.45,0.42) (9.45,0.48) (9.45,0.56) (9.45,0.64) (9.45,0.72) (9.45,0.8) (9.45,0.88) (9.55,0.41) (9.55,0.47) (9.55,0.54) (9.55,0.61) (9.55,0.68) (9.55,0.76) (9.55,0.83) (9.65,0.43) (9.65,0.49) (9.65,0.56) (9.65,0.63) (9.65,0.7) (9.65,0.78) (9.65,0.86)
(9.75,0.45) (9.75,0.52) (9.75,0.59) (9.75,0.66) (9.75,0.74) (9.75,0.82) (9.75,0.9) (9.85,0.43) (9.85,0.48) (9.85,0.54) (9.85,0.62) (9.85,0.69) (9.85,0.76) (9.85,0.84) (9.95,0.45) (9.95,0.52) (9.95,0.58) (9.95,0.66) (9.95,0.73) (9.95,0.8) (9.95,0.87)
(10.05,0.47) (10.05,0.55) (10.05,0.63) (10.05,0.7) (10.05,0.77) (10.05,0.83) (10.05,0.9) (10.15,0.5) (10.15,0.58) (10.15,0.65) (10.15,0.72) (10.15,0.79) (10.15,0.86) (10.25,0.52) (10.25,0.6) (10.25,0.67) (10.25,0.74) (10.25,0.81) (10.25,0.88)
(10.35,0.54) (10.35,0.62) (10.35,0.69) (10.35,0.76) (10.35,0.83) (10.35,0.91) (10.45,0.56) (10.45,0.63) (10.45,0.7) (10.45,0.78) (10.45,0.85) (10.55,0.58) (10.55,0.65) (10.55,0.72) (10.55,0.8) (10.55,0.87)
(10.65,0.6) (10.65,0.68) (10.65,0.75) (10.65,0.81) (10.75,0.61) (10.75,0.67) (10.75,0.73) (10.75,0.8) (10.75,0.87) (10.85,0.63) (10.85,0.69) (10.85,0.76) (10.85,0.84) (10.95,0.66) (10.95,0.72) (10.95,0.78)
};
\addplot[kord] coordinates {
(7.27,0.43) (7.35,0.435) (7.45,0.44) (7.55,0.45) (7.65,0.46) (7.75,0.46) (7.85,0.47) (7.95,0.48) (8.1,0.49) (8.2,0.5) (8.3,0.5) (8.4,0.49) (8.5,0.485) (8.55,0.48) (8.6,0.48) (8.65,0.48) (8.55,0.51) (8.6,0.515) (8.7,0.52) (8.8,0.53) (8.9,0.55) (9.0,0.57) (9.1,0.58) (9.2,0.585) (9.3,0.58) (9.4,0.57) (9.5,0.56) (9.6,0.55) (9.7,0.55) (9.8,0.55) (9.9,0.545) (10.0,0.54) (10.05,0.56) (10.1,0.565) (10.05,0.53) (10.1,0.52) (10.1,0.67) (10.15,0.72) (10.2,0.73) (10.25,0.72) (10.3,0.71) (10.35,0.72) (10.4,0.74) (10.45,0.75) (10.48,0.76) (10.5,0.77) (10.45,0.735)
};
\addplot[fitl] coordinates {(6.1,0.588) (6.5,0.584) (7,0.583) (7.5,0.588) (8,0.598) (8.5,0.612) (9,0.63) (9.5,0.652) (10,0.678) (10.5,0.707) (11,0.737) (11.3,0.75)};
\end{axis}
% ---------------- Transportation
\begin{axis}[stata, at={(484.5pt,-362.25pt)}, ylabel={Transportation Influence}]
\addplot[greyd] coordinates {
(6.1,0.02) (6.2,0.03) (6.25,0.06) (6.3,0.02) (6.4,0.03) (6.5,0.02) (6.55,0.04) (6.6,0.03) (6.7,0.02) (6.75,0.04) (6.8,0.05) (6.85,0.03) (6.9,0.06) (6.95,0.04) (7.0,0.07) (7.05,0.03) (7.1,0.05) (7.15,0.02) (7.2,0.04) (7.25,0.03) (7.3,0.05) (7.35,0.02) (7.4,0.04) (7.45,0.03) (7.5,0.05) (7.55,0.02) (7.6,0.04) (7.65,0.06) (7.7,0.08) (7.75,0.05) (7.8,0.08) (7.85,0.03) (7.9,0.05) (7.95,0.02) (8.0,0.04) (8.05,0.06) (8.1,0.03) (8.15,0.05) (8.2,0.02) (8.25,0.04) (8.3,0.1) (8.35,0.06) (8.4,0.09) (8.45,0.03) (8.5,0.08) (8.55,0.05) (8.6,0.07) (8.65,0.02) (8.7,0.06) (8.75,0.04) (8.8,0.07) (8.85,0.03) (8.9,0.06) (8.95,0.04) (9.0,0.07) (9.05,0.03) (9.1,0.08) (9.15,0.05) (9.2,0.07) (9.25,0.03) (9.3,0.09) (9.35,0.05) (9.4,0.08) (9.45,0.03) (9.5,0.07) (9.55,0.1) (9.6,0.05) (9.65,0.08) (9.7,0.03) (9.75,0.09) (9.8,0.06) (9.85,0.1) (9.9,0.04) (9.95,0.07) (10.0,0.09) (10.05,0.03) (10.1,0.05) (10.15,0.08) (10.2,0.04) (10.25,0.06) (10.3,0.02) (10.35,0.05) (10.4,0.03) (10.45,0.06) (10.5,0.02) (10.55,0.04) (10.6,0.06) (10.65,0.03) (10.7,0.05) (10.75,0.02) (10.8,0.04) (10.85,0.06) (10.9,0.03) (10.95,0.05) (11.0,0.02) (11.05,0.04) (11.1,0.03) (11.15,0.05) (11.2,0.02) (11.25,0.04) (11.3,0.03)
(7.0,0.01) (7.5,0.01) (8.0,0.01) (8.5,0.01) (9.0,0.01) (9.5,0.02) (10.0,0.02) (10.5,0.01) (11.0,0.01)
(10.0,0.2) (10.05,0.23) (10.1,0.25) (10.15,0.25) (9.9,0.17) (9.95,0.15) (9.8,0.13) (9.6,0.15) (9.5,0.16) (9.55,0.14) (9.4,0.12) (9.3,0.11) (9.7,0.12) (9.2,0.1) (9.6,0.11) (10.4,0.14) (11.05,0.2) (11.1,0.18) (11.15,0.17) (11.2,0.12) (11.3,0.12) (11.15,0.13) (8.35,0.1) (8.4,0.09) (8.5,0.08) (7.8,0.08) (7.7,0.085)
(9.2,0.085) (9.4,0.09) (9.6,0.09) (9.8,0.095) (10.0,0.1) (10.2,0.08) (10.3,0.075)
};
\addplot[kord] coordinates {
(7.27,0.025) (7.35,0.025) (7.45,0.03) (7.55,0.03) (7.65,0.035) (7.75,0.03) (7.85,0.035) (7.95,0.03) (8.1,0.03) (8.2,0.03) (8.3,0.035) (8.4,0.03) (8.5,0.03) (8.6,0.03) (8.7,0.035) (8.8,0.035) (8.9,0.035) (9.0,0.04) (9.1,0.035) (9.2,0.04) (9.3,0.04) (9.4,0.045) (9.5,0.045) (9.6,0.045) (9.7,0.05) (9.8,0.05) (9.9,0.055) (10.0,0.06) (10.05,0.065) (10.1,0.075) (10.15,0.07) (10.2,0.07) (10.3,0.065) (10.4,0.065) (10.45,0.06) (10.5,0.065)
};
\addplot[fitl] coordinates {(6.08,0.004) (6.5,0.014) (7,0.024) (7.5,0.033) (8,0.04) (8.5,0.045) (9,0.048) (9.5,0.05) (10,0.05) (10.5,0.047) (11,0.042) (11.3,0.037)};
\end{axis}
\end{tikzpicture}
\end{document}
